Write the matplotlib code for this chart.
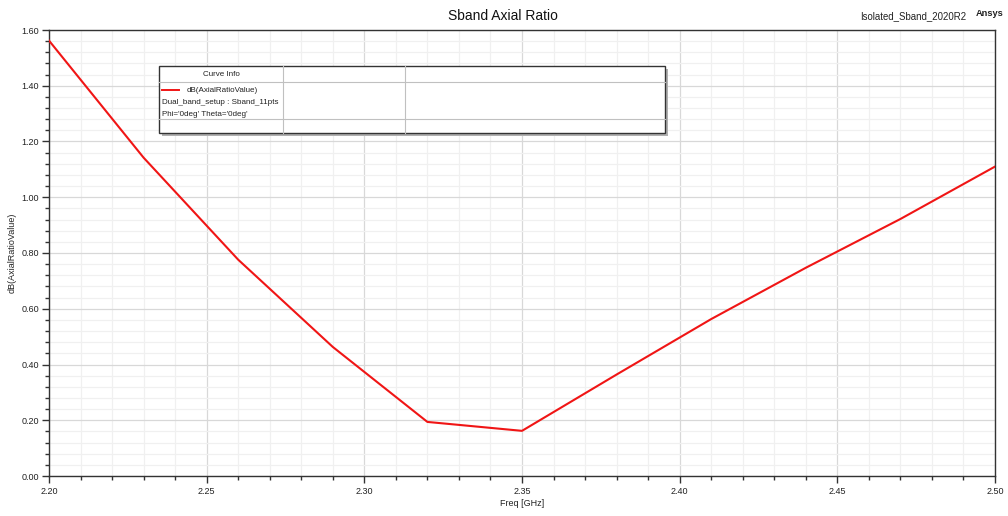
import matplotlib
matplotlib.use("Agg")
import matplotlib.pyplot as plt
from matplotlib.patches import Rectangle
from matplotlib.lines import Line2D
from matplotlib.ticker import MultipleLocator, FormatStrFormatter

plt.rcParams['font.family'] = ['Liberation Sans', 'DejaVu Sans']

freq_ghz = [2.20, 2.23, 2.26, 2.29, 2.32, 2.35, 2.38, 2.41, 2.44, 2.47, 2.50]
axial_ratio_db = [1.562, 1.142, 0.776, 0.463, 0.194, 0.162, 0.364, 0.563, 0.747, 0.922, 1.110]

title = "Sband Axial Ratio"
project = "Isolated_Sband_2020R2"
brand = "Ansys"
xlabel = "Freq [GHz]"
ylabel = "dB(AxialRatioValue)"
legend_header = "Curve Info"
legend_lines = ["dB(AxialRatioValue)", "Dual_band_setup : Sband_11pts", "Phi='0deg' Theta='0deg'"]

W, H = 1008, 516
fig = plt.figure(figsize=(W / 100, H / 100), dpi=100)
ax = fig.add_axes([49 / W, (H - 476) / H, 946 / W, 446 / H])

ax.plot(freq_ghz, axial_ratio_db, color='#f01515', lw=1.5, zorder=5)
ax.set_xlim(2.20, 2.50)
ax.set_ylim(0.0, 1.60)

ax.xaxis.set_major_locator(MultipleLocator(0.05))
ax.xaxis.set_minor_locator(MultipleLocator(0.01))
ax.yaxis.set_major_locator(MultipleLocator(0.2))
ax.yaxis.set_minor_locator(MultipleLocator(0.04))
ax.xaxis.set_major_formatter(FormatStrFormatter('%.2f'))
ax.yaxis.set_major_formatter(FormatStrFormatter('%.2f'))

ax.grid(which='major', color='#d8d8d8', lw=0.9, zorder=0)
ax.grid(which='minor', color='#f0f0f0', lw=0.9, zorder=0)
ax.set_axisbelow(True)

ax.tick_params(which='major', direction='out', length=5, width=1, color='#333333',
               labelsize=6.5, labelcolor='#222222', pad=2)
ax.tick_params(which='minor', direction='out', length=3, width=1, color='#333333')
ax.tick_params(axis='x', pad=3)
for s in ax.spines.values():
    s.set_color('#333333')
    s.set_linewidth(1.0)

fig.text(522 / W, 1 - 503 / H, xlabel, ha='center', va='center', fontsize=6.5, color='#222222')
fig.text(12 / W, 1 - 253 / H, ylabel, ha='center', va='center', rotation=90, fontsize=6.5, color='#222222')
fig.text(503 / W, 1 - 16 / H, title, ha='center', va='center', fontsize=10, color='#111111')
fig.text(966 / W, 1 - 16 / H, project, ha='right', va='center', fontsize=6.9, color='#222222')
fig.text(976 / W, 1 - 14 / H, brand, ha='left', va='center', fontsize=6.7, fontweight='bold', color='#222222')

# legend box (Curve Info table)
def fx(x):
    return x / W

def fy(y):
    return 1 - y / H

lx0, lx1, ly0, ly1 = 159, 665, 66, 133
fig.add_artist(Rectangle((fx(lx0 + 3), fy(ly1 + 3)), fx(lx1 - lx0), (ly1 - ly0) / H,
                         facecolor='#b0b0b0', edgecolor='none', zorder=9))
fig.add_artist(Rectangle((fx(lx0), fy(ly1)), fx(lx1 - lx0), (ly1 - ly0) / H,
                         facecolor='white', edgecolor='#333333', lw=1.0, zorder=10))
for xd in (283, 405):
    fig.add_artist(Line2D([fx(xd), fx(xd)], [fy(ly0), fy(ly1)], color='#c0c0c0', lw=0.8, zorder=11))
for yd in (82, 119):
    fig.add_artist(Line2D([fx(lx0), fx(lx1)], [fy(yd), fy(yd)], color='#c0c0c0', lw=0.8, zorder=11))
fs = 5.8
fig.text(fx(221), fy(74), legend_header, ha='center', va='center', fontsize=fs, color='#222222', zorder=12)
fig.add_artist(Line2D([fx(162), fx(179)], [fy(90), fy(90)], color='#f01515', lw=1.4, zorder=12))
fig.text(fx(187), fy(90.5), legend_lines[0], ha='left', va='center', fontsize=fs, color='#222222', zorder=12)
fig.text(fx(162), fy(102), legend_lines[1], ha='left', va='center', fontsize=fs, color='#222222', zorder=12)
fig.text(fx(162), fy(114), legend_lines[2], ha='left', va='center', fontsize=fs, color='#222222', zorder=12)

fig.savefig('out.png', dpi=100, facecolor='white')
